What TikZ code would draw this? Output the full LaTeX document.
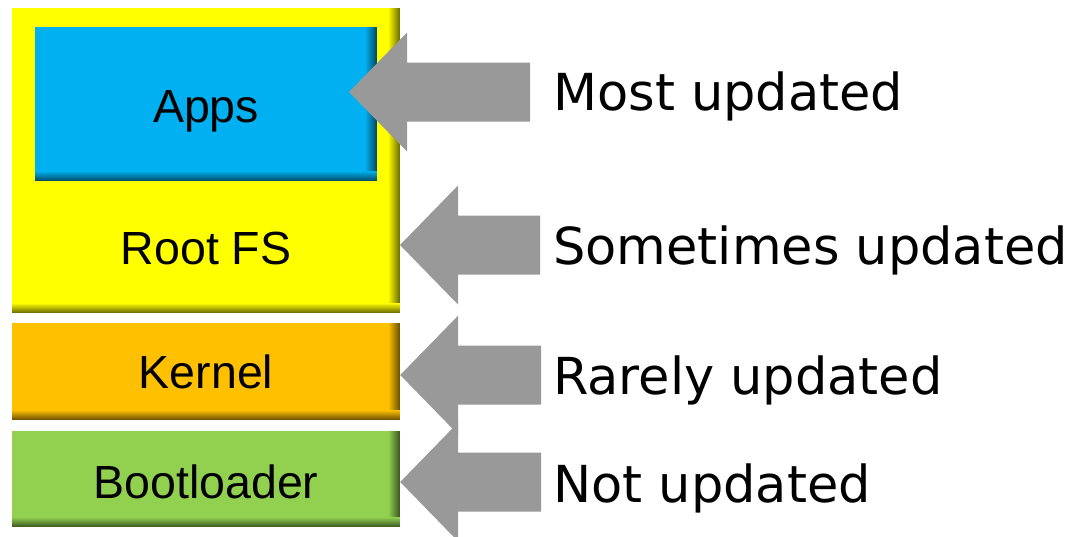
\documentclass[tikz,border=0pt]{standalone}
\usepackage{fontspec}
\setmainfont{Liberation Sans}
\newfontfamily\labelfont{DejaVu Sans}
\definecolor{rootyellow}{HTML}{FFFF00}
\definecolor{appblue}{HTML}{00B0F0}
\definecolor{kernelorange}{HTML}{FFC000}
\definecolor{bootgreen}{HTML}{92D050}
\definecolor{arrowgray}{HTML}{999999}
\tikzset{
  layer/.style={
    rectangle, inner sep=0pt, fill=#1,
    path picture={
      % darkening towards the right edge
      \foreach \i in {0,...,11}{
        \pgfmathtruncatemacro\shadepct{100-5*\i}
        \fill[#1!\shadepct!black]
          ([xshift=\i pt-12pt]path picture bounding box.north east)
          rectangle ([xshift=\i pt-10.7pt]path picture bounding box.south east);
      }
      % darkening towards the bottom edge
      \foreach \i in {0,...,9}{
        \pgfmathtruncatemacro\shadepct{100-6*\i}
        \fill[#1!\shadepct!black]
          ([yshift=10pt-\i pt]path picture bounding box.south west)
          rectangle ([yshift=8.7pt-\i pt]path picture bounding box.south east);
      }
    }
  },
  layertext/.style={inner sep=0pt, text height=33.3pt, text depth=0pt,
    font=\fontsize{46.5}{50}\selectfont},
  sidetext/.style={anchor=base west, inner sep=0pt,
    font=\labelfont\fontsize{51}{56}\selectfont},
  pointer/.pic={
    \fill[arrowgray] (0,0) -- (58,-59.5) -- (58,-29.5) -- (#1,-29.5)
      -- (#1,29.5) -- (58,29.5) -- (58,59.5) -- cycle;
  }
}
\begin{document}
\begin{tikzpicture}[x=1pt, y=-1pt]
  \useasboundingbox (0,0) rectangle (1075,536);

  % software layers
  \node[layer=rootyellow, minimum width=388pt, minimum height=305pt] (rootfs) at (206,160.5) {};
  \node[layer=appblue, minimum width=342pt, minimum height=154pt] (apps) at (206,104) {};
  \node[layer=kernelorange, minimum width=388pt, minimum height=97pt] (kernel) at (206,371.5) {};
  \node[layer=bootgreen, minimum width=388pt, minimum height=96pt] (boot) at (206,479) {};

  \node[layertext] (appslbl) at (206,105.5) {Apps};
  \node[layertext] (rootfslbl) at (206,247.5) {Root FS};
  \node[layertext] (kernellbl) at (206,372) {Kernel};
  \node[layertext] (bootlbl) at (206,481.5) {Bootloader};

  % update-frequency pointers
  \coordinate (tipapps) at (349,92);
  \coordinate (tiproot) at (400,245);
  \coordinate (tipkernel) at (kernel.east |- 0,375);
  \coordinate (tipboot) at (boot.east |- 0,482);
  \pic at (tipapps) {pointer=181};
  \pic at (tiproot) {pointer=140};
  \pic at (tipkernel) {pointer=141};
  \pic at (tipboot) {pointer=141};

  \node[sidetext] (most) at (553,110) {Most updated};
  \node[sidetext] (sometimes) at (553,264) {Sometimes updated};
  \node[sidetext] (rarely) at (553,394) {Rarely updated};
  \node[sidetext] (never) at (553,502) {Not updated};
\end{tikzpicture}
\end{document}
